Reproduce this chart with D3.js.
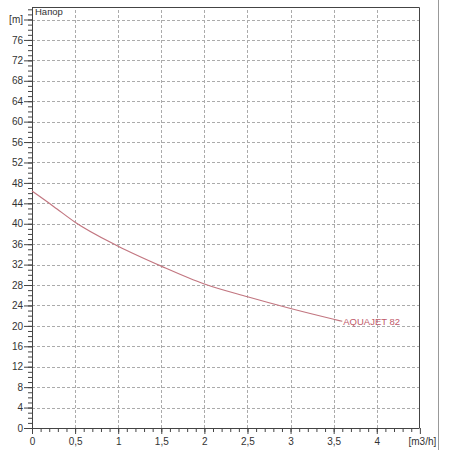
<!DOCTYPE html>
<html>
<head>
<meta charset="utf-8">
<script src="https://cdn.jsdelivr.net/npm/d3@7"></script>
<style>
  body { margin: 0; background: #fff; }
  svg { display: block; font-family: "Liberation Sans", Arial, sans-serif; }
</style>
</head>
<body>
<div id="chart"></div>
<script>
// data
const flow = [0, 0.25, 0.5, 1, 1.5, 2, 2.5, 3, 3.5, 3.6];
const head = [46.4, 43.4, 40.3, 35.6, 31.7, 28.2, 25.7, 23.4, 21.3, 20.9];
const seriesName = "AQUAJET 82";
const yMajor = d3.range(0, 81, 4);
const xMajor = [0, 0.5, 1, 1.5, 2, 2.5, 3, 3.5, 4, 4.5];
const yUnit = "[m]";
const xUnit = "[m3/h]";
const yTitle = "Напор";

const W = 450, H = 450;
const margin = { top: 7, right: 31, bottom: 22, left: 32 };

const svg = d3.select("#chart").append("svg")
  .attr("width", W)
  .attr("height", H);

const x = d3.scaleLinear().domain([0, 4.49]).range([margin.left, W - margin.right]);
const y = d3.scaleLinear().domain([0, 82.45]).range([H - margin.bottom, margin.top]);

const fmt = d => String(d).replace(".", ",");

// grid
const grid = svg.append("g")
  .attr("stroke", "#ababab")
  .attr("stroke-dasharray", "3,2")
  .attr("stroke-width", 1);
grid.selectAll(".hg")
  .data(yMajor.filter(d => d > 0))
  .join("line")
  .attr("x1", x(0)).attr("x2", x(4.49))
  .attr("y1", d => Math.round(y(d)) + 0.5)
  .attr("y2", d => Math.round(y(d)) + 0.5);
grid.selectAll(".vg")
  .data(xMajor.filter(d => d > 0 && d < 4.5))
  .join("line")
  .attr("y1", y(0)).attr("y2", y(82.45))
  .attr("x1", d => Math.round(x(d)) + 0.5)
  .attr("x2", d => Math.round(x(d)) + 0.5);

// plot frame (top and right)
svg.append("path")
  .attr("d", `M${x(0)},${y(82.45) + 0.5}H${x(4.49) + 0.5}V${y(0)}`)
  .attr("fill", "none")
  .attr("stroke", "#444");

// outer border on the right
svg.append("line")
  .attr("x1", 438.5).attr("x2", 438.5)
  .attr("y1", 0).attr("y2", H)
  .attr("stroke", "#999");

// minor ticks
svg.append("g")
  .attr("transform", `translate(${x(0)},0)`)
  .call(d3.axisLeft(y).tickValues(d3.range(0, 83, 1)).tickSize(4).tickFormat(""))
  .call(g => g.select(".domain").remove())
  .selectAll("line").attr("stroke", "#444");
svg.append("g")
  .attr("transform", `translate(0,${y(0)})`)
  .call(d3.axisBottom(x).tickValues(d3.range(0, 45, 1).map(d => d / 10)).tickSize(4).tickFormat(""))
  .call(g => g.select(".domain").remove())
  .selectAll("line").attr("stroke", "#444");

// major axes
const yAxis = svg.append("g")
  .attr("transform", `translate(${x(0)},0)`)
  .call(d3.axisLeft(y).tickValues(yMajor).tickSize(8).tickPadding(1)
    .tickFormat(d => d === 80 ? yUnit : d));
const xAxis = svg.append("g")
  .attr("transform", `translate(0,${y(0)})`)
  .call(d3.axisBottom(x).tickValues(xMajor).tickSize(6).tickPadding(4)
    .tickFormat(d => d === 4.5 ? xUnit : fmt(d)));

[yAxis, xAxis].forEach(a => {
  a.select(".domain").remove();
  a.selectAll("line").attr("stroke", "#444");
  a.selectAll("text").attr("fill", "#333").style("font-size", "10px");
});
// axis lines drawn plainly
svg.append("line")
  .attr("x1", x(0) + 0.5).attr("x2", x(0) + 0.5)
  .attr("y1", y(82.45)).attr("y2", y(0))
  .attr("stroke", "#444");
svg.append("line")
  .attr("x1", x(0)).attr("x2", x(4.49) + 0.5)
  .attr("y1", y(0) + 0.5).attr("y2", y(0) + 0.5)
  .attr("stroke", "#444");
xAxis.selectAll(".tick").filter(d => d === 4.5).select("text").attr("dx", 2);

// y title
svg.append("text")
  .attr("x", x(0) + 3)
  .attr("y", y(80) - 5)
  .attr("fill", "#333")
  .style("font-size", "9.5px")
  .text(yTitle);

// curve
const pts = flow.map((f, i) => [f, head[i]]);
svg.append("path")
  .datum(pts)
  .attr("fill", "none")
  .attr("stroke", "#c27680")
  .attr("stroke-width", 1.2)
  .attr("d", d3.line().x(d => x(d[0])).y(d => y(d[1])).curve(d3.curveMonotoneX));

const last = pts[pts.length - 1];
svg.append("text")
  .attr("x", x(last[0]) + 1)
  .attr("y", y(last[1]))
  .attr("dy", "0.35em")
  .attr("fill", "#c05a6a")
  .style("font-size", "9.5px")
  .text(seriesName);
</script>
</body>
</html>
